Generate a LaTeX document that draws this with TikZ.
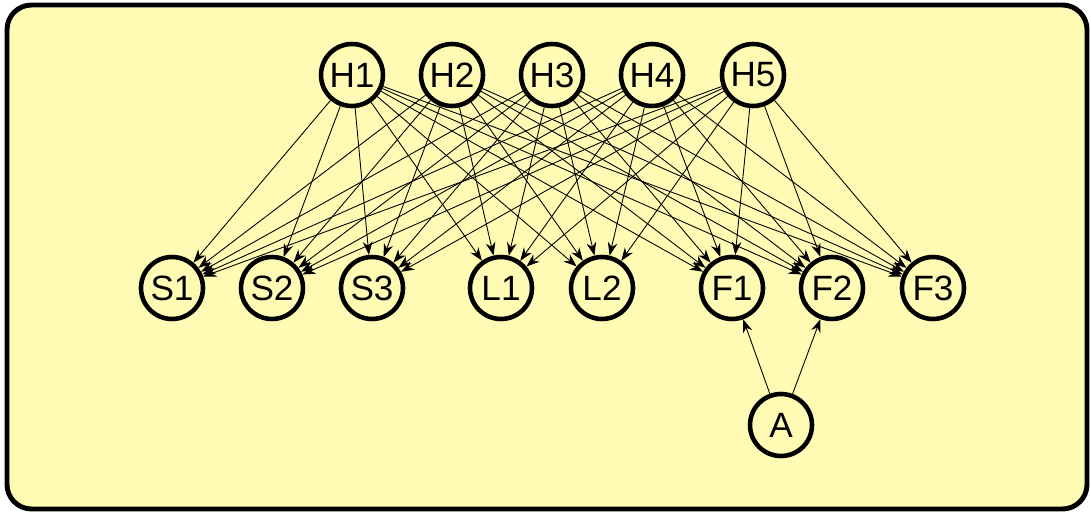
\documentclass[tikz,border=0pt]{standalone}
\usepackage{fontspec}
\setmainfont{Liberation Sans}
\usepackage{tikz}
\usetikzlibrary{arrows.meta}
\definecolor{paper}{HTML}{FFFAB4}

\begin{document}
\begin{tikzpicture}[x=0.02cm,y=-0.02cm,
  var/.style={circle,draw,fill=paper,line width=2.6pt,minimum size=1.24cm,inner sep=0pt,font=\fontsize{20}{20}\selectfont},
  dep/.style={-{Stealth[length=7.5pt,width=5.5pt]},line width=0.5pt}]
\useasboundingbox (0,0) rectangle (1091,513);
\draw [line width=2.8pt,rounded corners=14pt,fill=paper] (7,5) rectangle (1087,509);

% hidden layer
\node [var] (h1) at (352,75) {H1};
\node [var] (h2) at (452,75) {H2};
\node [var] (h3) at (552,75) {H3};
\node [var] (h4) at (652,75) {H4};
\node [var] (h5) at (753,75) {H5};

% observed layer
\node [var] (s1) at (172,288) {S1};
\node [var] (s2) at (272,288) {S2};
\node [var] (s3) at (372,288) {S3};
\node [var] (l1) at (501,288) {L1};
\node [var] (l2) at (602,288) {L2};
\node [var] (f1) at (732,288) {F1};
\node [var] (f2) at (832,288) {F2};
\node [var] (f3) at (933,288) {F3};

\node [var] (a) at (781,425) {A};

\foreach \h in {h1,h2,h3,h4,h5}
  \foreach \o in {s1,s2,s3,l1,l2,f1,f2,f3}
    \draw [dep] (\h) -- (\o);

\draw [dep] (a) -- (f1);
\draw [dep] (a) -- (f2);
\end{tikzpicture}
\end{document}
